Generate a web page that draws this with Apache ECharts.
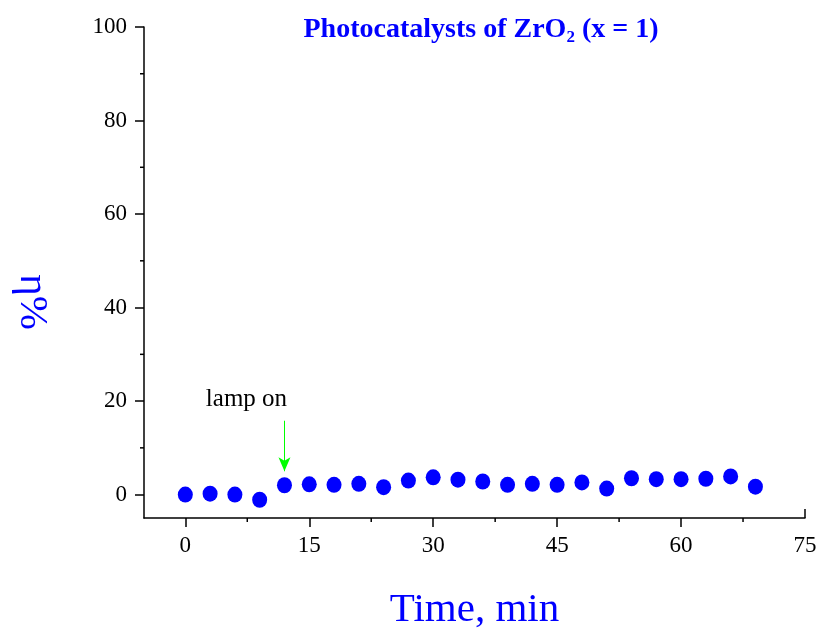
<!DOCTYPE html>
<html><head><meta charset="utf-8">
<script src="https://cdn.jsdelivr.net/npm/echarts@6/dist/echarts.min.js"></script>
<style>html,body{margin:0;padding:0;background:#fff}#c{width:818px;height:628px}</style>
</head><body><div id="c"></div>
<script>
const timeMin = [0,3,6,9,12,15,18,21,24,27,30,33,36,39,42,45,48,51,54,57,60,63,66,69];
const etaPct = [0,0.2,0,-1.1,2.0,2.2,2.1,2.3,1.6,3.0,3.7,3.2,2.8,2.1,2.3,2.1,2.6,1.3,3.5,3.3,3.3,3.4,3.9,1.7];
const xTicks = [0,15,30,45,60,75];
const yTicks = [0,20,40,60,80,100];
const xMinorTicks = [7.5,22.5,37.5,52.5,67.5];
const yMinorTicks = [10,30,50,70,90];
const lampOnTime = 12;

const font = '"Liberation Serif","Times New Roman",serif';
const chart = echarts.init(document.getElementById('c'));
chart.setOption({
  animation:false,
  title:{
    text:'{t|Photocatalysts of ZrO}{s|2}{t| (x = 1)}',
    left:476, top:8, textAlign:'center',
    textStyle:{rich:{
      t:{fontFamily:font,fontWeight:'bold',fontSize:28,color:'#0000ff'},
      s:{fontFamily:font,fontWeight:'bold',fontSize:17,color:'#0000ff',padding:[16,0,0,0]}
    }}
  },
  graphic:[{
    type:'text',x:32,y:302,rotation:-Math.PI/2,
    style:{text:'η%',font:'41px "Liberation Serif","Times New Roman",serif',fill:'#0000ff',align:'center',verticalAlign:'middle'}
  }],
  grid:{left:144,right:13,top:27,bottom:110,outerBoundsMode:'none',containLabel:false},
  xAxis:{
    type:'value',min:-5,max:75,
    name:'Time, min',nameLocation:'middle',nameGap:72,
    nameTextStyle:{fontFamily:font,fontSize:41,color:'#0000ff'},
    axisLine:{onZero:false,lineStyle:{color:'#000',width:1.5}},
    axisTick:{length:9,lineStyle:{color:'#000',width:1.5},customValues:xTicks.slice(0,-1)},
    axisLabel:{fontFamily:font,fontSize:23,color:'#000',margin:16,customValues:xTicks},
    splitLine:{show:false}
  },
  yAxis:{
    type:'value',min:-5,max:100,
    axisLine:{onZero:false,lineStyle:{color:'#000',width:1.5}},
    axisTick:{length:9,lineStyle:{color:'#000',width:1.5},customValues:yTicks},
    axisLabel:{fontFamily:font,fontSize:23,color:'#000',margin:17,customValues:yTicks},
    splitLine:{show:false}
  },
  series:[
    {
      type:'scatter',
      data:timeMin.map((t,i)=>[t,etaPct[i]]),
      symbol:'circle',symbolSize:[15,16],
      itemStyle:{color:'#0000ff',opacity:1},
      z:3,
      markLine:{
        silent:true,symbol:['none','arrow'],symbolSize:[9,14],
        lineStyle:{color:'#00ff00',width:1,type:'solid'},
        label:{show:false},
        data:[[{coord:[lampOnTime,15.8]},{coord:[lampOnTime,5.0]}]]
      },
      markPoint:{
        symbol:'circle',symbolSize:0,
        label:{show:true,formatter:'lamp on',fontFamily:font,fontSize:25,color:'#000',position:'inside'},
        data:[{coord:[7.4,20.3]}]
      }
    },
    {
      type:'custom',silent:true,
      data:[0],
      renderItem:function(params,api){
        const ch=[];
        xMinorTicks.forEach(v=>{const p=api.coord([v,-5]);ch.push({type:'line',shape:{x1:p[0],y1:p[1],x2:p[0],y2:p[1]+4},style:{stroke:'#000',lineWidth:1.5}});});
        yMinorTicks.forEach(v=>{const p=api.coord([-5,v]);ch.push({type:'line',shape:{x1:p[0],y1:p[1],x2:p[0]-4,y2:p[1]},style:{stroke:'#000',lineWidth:1.5}});});
        const e=api.coord([xTicks[xTicks.length-1],-5]);
        ch.push({type:'line',shape:{x1:e[0],y1:e[1],x2:e[0],y2:e[1]-9},style:{stroke:'#000',lineWidth:1.5}});
        return {type:'group',children:ch};
      }
    }
  ]
});
</script></body></html>
